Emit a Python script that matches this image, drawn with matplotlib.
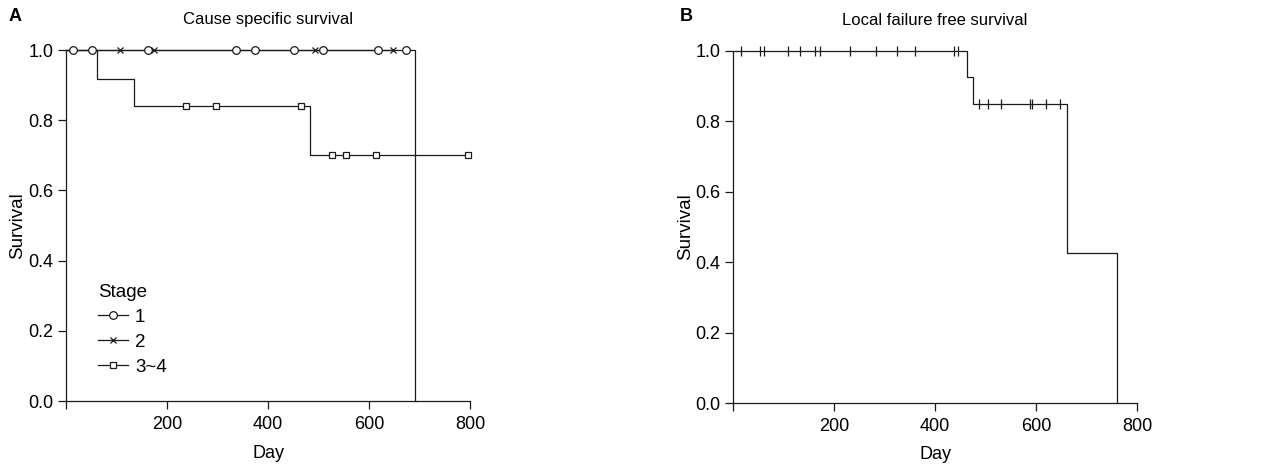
import matplotlib
matplotlib.use('Agg')
import matplotlib.pyplot as plt
import numpy as np

plt.rcParams['font.family'] = ['Liberation Sans', 'DejaVu Sans']

# Panel A: cause specific survival by stage
s1_time = [0, 691]
s1_surv = [1.0, 0.0]
s1_cens = [14, 51, 162, 337, 374, 451, 509, 618, 673]

s2_time = [0, 647]
s2_surv = [1.0, 1.0]
s2_cens = [107, 174, 493, 647]

s34_time = [0, 61, 135, 483, 796]
s34_surv = [1.0, 0.917, 0.84, 0.70, 0.70]
s34_cens = [238, 297, 465, 527, 554, 614, 796]

# Panel B: local failure free survival
b_time = [0, 463, 475, 661, 760]
b_surv = [1.0, 0.925, 0.85, 0.426, 0.0]
b_cens = [15, 54, 61, 108, 133, 163, 172, 232, 283, 325, 360, 437, 446,
          487, 504, 531, 588, 593, 620, 647]

x_ticks = [0, 200, 400, 600, 800]
x_labels = ['', '200', '400', '600', '800']
y_ticks = [0.0, 0.2, 0.4, 0.6, 0.8, 1.0]

LC = '#1a1a1a'
LW = 0.9


def surv_at(times, survs, t):
    # value of the step curve at time t
    idx = np.searchsorted(times, t, side='right') - 1
    return survs[idx]


def style_axes(ax, title, ylpad):
    ax.set_xlim(0, 800)
    ax.set_ylim(0, 1.0)
    ax.spines['top'].set_visible(False)
    ax.spines['right'].set_visible(False)
    for sp in ('left', 'bottom'):
        ax.spines[sp].set_linewidth(LW)
        ax.spines[sp].set_color(LC)
    ax.set_xticks(x_ticks)
    ax.set_xticklabels(x_labels)
    ax.set_yticks(y_ticks)
    ax.set_yticklabels(['%.1f' % v for v in y_ticks])
    ax.tick_params(direction='out', length=6, width=LW, color=LC,
                   labelsize=13)
    ax.tick_params(axis='x', pad=5)
    ax.tick_params(axis='y', pad=3)
    ax.set_xlabel('Day', fontsize=13, labelpad=8)
    ax.set_ylabel('Survival', fontsize=13.5, labelpad=ylpad)
    ax.set_title(title, fontsize=12, pad=19)


fig = plt.figure(figsize=(12.8, 4.72), dpi=100)
axA = fig.add_axes([0.0516, 0.150, 0.3156, 0.744])
axB = fig.add_axes([0.5727, 0.146, 0.3156, 0.746])

# --- A ---
groups = [
    ('1', s1_time, s1_surv, s1_cens, 'o', 5.5),
    ('2', s2_time, s2_surv, s2_cens, 'x', 5),
    ('3~4', s34_time, s34_surv, s34_cens, 's', 5),
]
handles = []
for name, tt, ss, cc, mk, ms in groups:
    axA.step(tt, ss, where='post', color=LC, lw=LW, clip_on=False)
    cy = [surv_at(tt, ss, c) for c in cc]
    axA.plot(cc, cy, linestyle='none', marker=mk, ms=ms, mfc='white',
             mec=LC, mew=0.9, clip_on=False, zorder=3)
    h, = axA.plot([], [], color=LC, lw=LW, marker=mk, ms=ms, mfc='white',
                  mec=LC, mew=0.9, label=name)
    handles.append(h)
style_axes(axA, 'Cause specific survival', 2)
leg = axA.legend(handles=handles, title='Stage', loc='lower left',
                 bbox_to_anchor=(0.08, 0.072), frameon=False, fontsize=13.5,
                 title_fontsize=13.5, handlelength=1.6, handletextpad=0.35,
                 labelspacing=0.42, borderpad=0, borderaxespad=0,
                 alignment='left')

# --- B ---
axB.step(b_time, b_surv, where='post', color=LC, lw=LW, clip_on=False)
by = [surv_at(b_time, b_surv, c) for c in b_cens]
axB.plot(b_cens, by, linestyle='none', marker='|', ms=7, mec=LC, mew=0.9,
         clip_on=False, zorder=3)
style_axes(axB, 'Local failure free survival', 1)

fig.text(0.007, 0.955, 'A', fontsize=13, fontweight='bold')
fig.text(0.531, 0.955, 'B', fontsize=13, fontweight='bold')

fig.savefig('out.png', dpi=100)
plt.close(fig)
